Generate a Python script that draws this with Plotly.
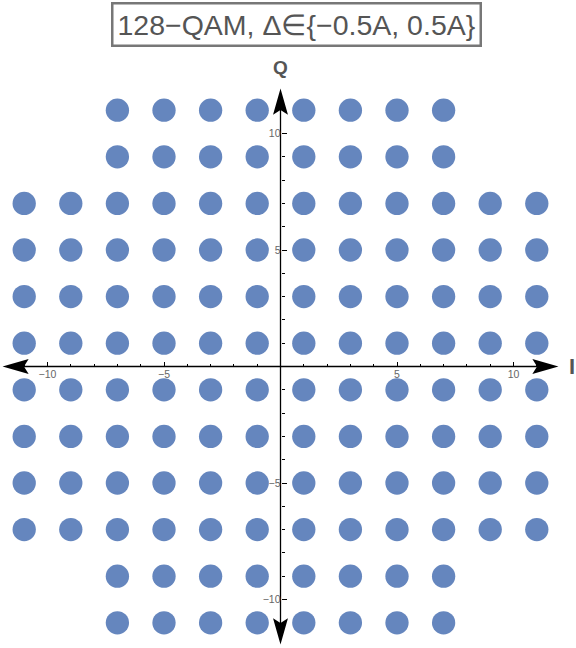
import plotly.graph_objects as go

# ---- data ----
I_full_row = [-11, -9, -7, -5, -3, -1, 1, 3, 5, 7, 9, 11]   # I levels in rows |Q| <= 7
I_short_row = [-7, -5, -3, -1, 1, 3, 5, 7]                  # I levels in rows |Q| >= 9
Q_full_rows = [7, 5, 3, 1, -1, -3, -5, -7]
Q_short_rows = [11, 9, -9, -11]
tick_vals = [-10, -5, 5, 10]
tick_text = ["\u221210", "\u22125", "5", "10"]
minor_vals = [v for v in range(-11, 12)]
title_text = "128\u2212QAM, \u0394\u2208{\u22120.5A, 0.5A}"
cluster_radius = 0.5  # Δ = ±0.5A

# ---- build constellation ----
xs, ys = [], []
for q in Q_short_rows[:2]:
    for i in I_short_row:
        xs.append(i); ys.append(q)
for q in Q_full_rows:
    for i in I_full_row:
        xs.append(i); ys.append(q)
for q in Q_short_rows[2:]:
    for i in I_short_row:
        xs.append(i); ys.append(q)

W, H = 576, 648
ppu = 23.3
x0_px, y0_px = 280.5, 366.5
xr = [-x0_px / ppu, (W - x0_px) / ppu]
yr = [-(H - y0_px) / ppu, y0_px / ppu]

fig = go.Figure()
fig.add_trace(go.Scatter(
    x=xs, y=ys, mode="markers",
    marker=dict(size=2 * cluster_radius * ppu, color="#6586be",
                line=dict(width=0)),
    hoverinfo="skip", showlegend=False))

# axis lines and arrow heads
ext = 11.93
L, hw, notch = 1.12, 0.32, 0.92
shapes = [
    dict(type="line", x0=-ext + 0.5, x1=ext - 0.5, y0=0, y1=0, xref="x", yref="y",
         line=dict(color="black", width=1.3), layer="below"),
    dict(type="line", y0=-ext + 0.5, y1=ext - 0.5, x0=0, x1=0, xref="x", yref="y",
         line=dict(color="black", width=1.3), layer="below"),
]
def tri(pts):
    p = "M " + " L ".join(f"{a},{b}" for a, b in pts) + " Z"
    return dict(type="path", path=p, xref="x", yref="y", fillcolor="black",
                line=dict(width=0), layer="below")
shapes += [
    tri([(ext, 0), (ext - L, hw), (ext - notch, 0), (ext - L, -hw)]),
    tri([(-ext, 0), (-ext + L, hw), (-ext + notch, 0), (-ext + L, -hw)]),
    tri([(0, ext), (hw, ext - L), (0, ext - notch), (-hw, ext - L)]),
    tri([(0, -ext), (hw, -ext + L), (0, -ext + notch), (-hw, -ext + L)]),
]

tickfont = dict(family="Liberation Sans, Arial, sans-serif", size=10.5, color="#666")
common = dict(showgrid=False, zeroline=False, showline=False, ticks="inside",
              ticklen=5, tickwidth=1, tickcolor="black", tickmode="array",
              tickvals=tick_vals, ticktext=tick_text, tickfont=tickfont,
              layer="below traces", automargin=False, fixedrange=True,
              minor=dict(tickmode="array", tickvals=minor_vals, ticks="inside",
                         ticklen=3, tickwidth=1, tickcolor="black", showgrid=False))

fig.update_layout(
    width=W, height=H,
    margin=dict(l=0, r=0, t=0, b=0),
    paper_bgcolor="white", plot_bgcolor="white",
    xaxis=dict(range=xr, anchor="free", position=(0 - yr[0]) / (yr[1] - yr[0]), **common),
    yaxis=dict(range=yr, anchor="free", position=(0 - xr[0]) / (xr[1] - xr[0]), **common),
    shapes=shapes,
    showlegend=False,
    annotations=[
        dict(text=title_text, x=296.5 / W, y=1 - 24.5 / H, xref="paper", yref="paper",
             showarrow=False, xanchor="center", yanchor="middle",
             font=dict(family="Liberation Sans, Arial, sans-serif", size=28.5, color="#555"),
             bordercolor="#777", borderwidth=2.5, borderpad=4, bgcolor="white"),
        dict(text="<b>Q</b>", x=0, y=12.85, xref="x", yref="y", showarrow=False,
             xanchor="center", yanchor="middle",
             font=dict(family="Liberation Sans, Arial, sans-serif", size=19, color="#555")),
        dict(text="<b>I</b>", x=ext + 0.6, y=0, xref="x", yref="y", showarrow=False,
             xanchor="center", yanchor="middle",
             font=dict(family="Liberation Sans, Arial, sans-serif", size=22, color="#555")),
    ],
)

fig.write_html("out.html")
